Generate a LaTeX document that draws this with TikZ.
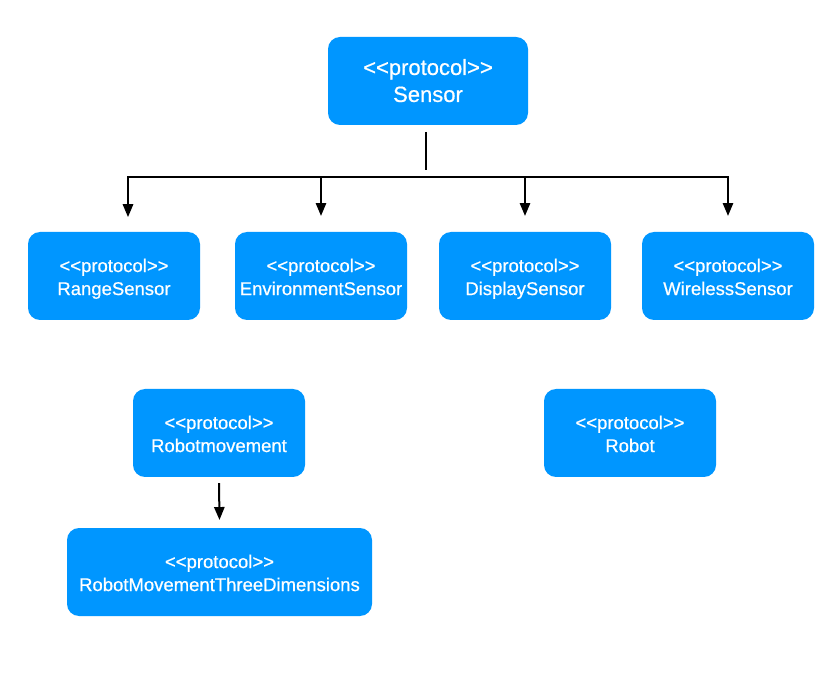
\documentclass[tikz,border=0pt]{standalone}
\usepackage{fontspec}
\setmainfont{Liberation Sans}[Ligatures=TeXOff, FakeBold=0.6]
\usepackage{tikz}
\usetikzlibrary{arrows}
\definecolor{protoblue}{RGB}{0,150,255}
\newcommand{\protolabel}[1][22pt]{\rule{0pt}{#1}<<protocol>>}
\tikzset{protonode/.style={rectangle, rounded corners=12pt, fill=protoblue, text=white, align=center, minimum width=172pt, minimum height=88pt, font=\fontsize{18.5}{23}\selectfont},
every label/.style={rectangle, draw=none}}

\begin{document}
\begin{tikzpicture}[x=10pt,y=10pt]
\coordinate (SW) at (0,0);
\coordinate (NE) at (83.6,67.3);
\useasboundingbox[fill=white] (SW) rectangle (NE);

%%% protocols
\node[protonode, minimum width=200pt, font=\fontsize{22}{27}\selectfont] (Sensor) at (42.8,59.2) {\protolabel[23pt]\\Sensor\strut};

\node[protonode] (Range) at (11.4,39.7) {\protolabel\\RangeSensor\strut};
\node[protonode] (Environment) at (32.1,39.7) {\protolabel\\EnvironmentSensor\strut};
\node[protonode] (Display) at (52.5,39.7) {\protolabel\\DisplaySensor\strut};
\node[protonode] (Wireless) at (72.8,39.7) {\protolabel\\WirelessSensor\strut};

\node[protonode] (Movement) at (21.9,24.0) {\protolabel\\Robotmovement\strut};
\node[protonode] (Robot) at (63.0,24.0) {\protolabel\\Robot\strut};
\node[protonode, minimum width=305pt] (ThreeD) at (21.95,10.1) {\protolabel\\RobotMovementThreeDimensions\strut};

%%% connectors
\begin{scope}[line width=2pt]
\coordinate (stemtop) at (42.6,54.1);
\coordinate (stembot) at (42.6,50.3);
\coordinate (barL) at (12.8,49.6);
\coordinate (barR) at (72.8,49.6);
\draw (stemtop) -- (stembot);
\draw[line cap=rect] (barL) -- (barR);
\draw[-triangle 45] (barL) -- (12.8,45.6);
\draw[-triangle 45] (Environment.north |- barL) -- ([yshift=16pt]Environment.north);
\draw[-triangle 45] (Display.north |- barL) -- ([yshift=16pt]Display.north);
\draw[-triangle 45] (barR) -- ([yshift=16pt]Wireless.north);
\draw[-triangle 45] ([yshift=-6pt]Movement.south) -- ([yshift=8pt]ThreeD.north);
\end{scope}

\end{tikzpicture}
\end{document}
